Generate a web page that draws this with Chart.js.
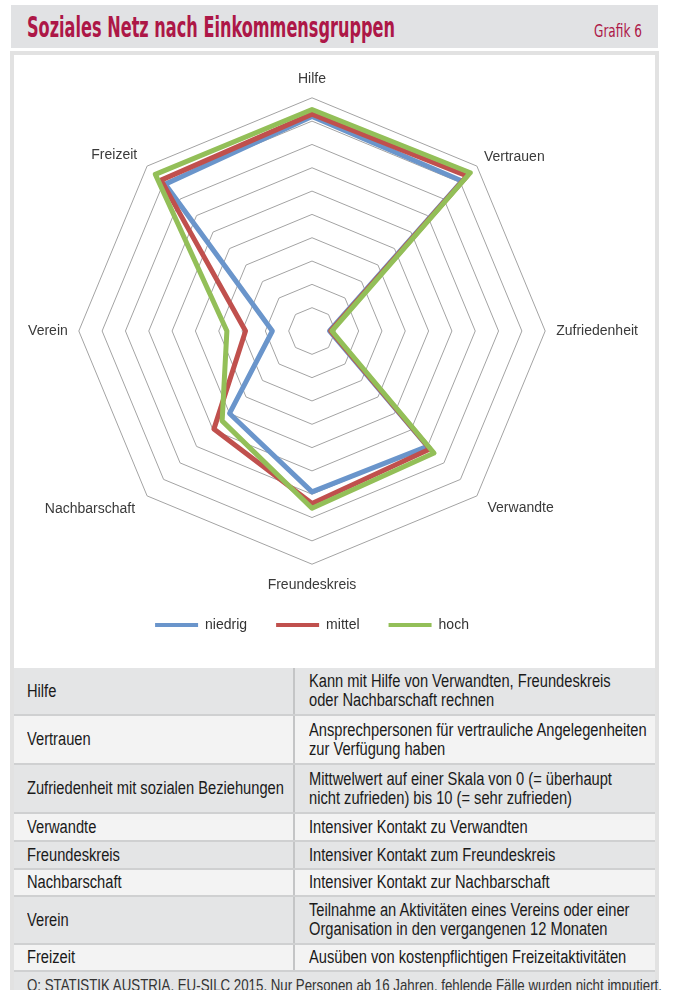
<!DOCTYPE html>
<html lang="de"><head><meta charset="utf-8">
<script src="https://cdn.jsdelivr.net/npm/chart.js@4.4.1/dist/chart.umd.min.js"></script>
<style>
html,body{margin:0;padding:0;background:#fff;overflow:hidden;}
body{width:676px;height:990px;position:relative;}
.nar{font-family:"Liberation Sans Narrow","Arial Narrow","DejaVu Sans Condensed",sans-serif;}
.ars{font-family:"Liberation Sans",Arial,sans-serif;}
#hdr{position:absolute;left:11px;top:5px;width:647px;height:43px;background:#e1e2e4;}
#title{position:absolute;left:16px;top:7px;font-weight:bold;font-size:28px;line-height:32px;color:#ad1747;white-space:nowrap;transform-origin:0 0;}
#grafik{position:absolute;left:583px;top:16px;font-size:17px;line-height:20px;color:#ad1747;white-space:nowrap;transform-origin:0 0;}
#frame{position:absolute;left:10px;top:51px;width:641px;height:960px;border:4px solid #e2e2e2;border-bottom:none;background:#fff;}
#chart{position:absolute;left:-40px;top:55px;z-index:2;}
.row{position:absolute;left:14px;width:641px;box-sizing:border-box;border-bottom:2px solid #cfd0d1;font-size:18px;line-height:19px;color:#1a1a1a;z-index:3;}
.row.g{background:#e4e5e6;}
.row.l{background:#f3f3f3;}
.c1{position:absolute;left:0;top:0;bottom:0;width:279px;box-sizing:border-box;padding-left:13px;display:flex;flex-direction:column;justify-content:center;}
.c2{position:absolute;left:279px;top:0;bottom:0;right:0;box-sizing:border-box;padding-left:14px;border-left:2px solid #c4c5c6;display:flex;flex-direction:column;justify-content:center;}
.sx{display:block;white-space:nowrap;transform:scaleX(0.815);transform-origin:0 50%;}
.src{position:absolute;left:14px;width:641px;height:40px;background:#e4e5e6;font-size:17px;line-height:20px;color:#333;z-index:3;white-space:nowrap;}
.src span{position:absolute;left:13px;top:4px;transform-origin:0 50%;}
</style>
</head>
<body>
<div id="hdr"><div id="title" class="nar">Soziales Netz nach Einkommensgruppen</div><div id="grafik" class="nar">Grafik 6</div></div>
<div id="frame"></div>
<canvas id="chart" width="704" height="605" style="width:704px;height:605px"></canvas>
<div id="tbl"></div>
<script>
// ---- data ----
const categories = ['Hilfe', 'Vertrauen', 'Zufriedenheit', 'Verwandte', 'Freundeskreis', 'Nachbarschaft', 'Verein', 'Freizeit'];
const seriesNames = ['niedrig', 'mittel', 'hoch'];
const niedrig = [92, 91, 7.5, 70, 69, 50, 17, 89];
const mittel  = [93, 94, 8.0, 71.5, 74, 59.5, 28.5, 91.5];
const hoch    = [95, 96, 8.5, 74, 76, 54.5, 36.5, 95];
const scaleMin = 0, scaleMax = 100, scaleStep = 10;

const tableTerms = ['Hilfe', 'Vertrauen', 'Zufriedenheit mit sozialen Beziehungen', 'Verwandte', 'Freundeskreis', 'Nachbarschaft', 'Verein', 'Freizeit'];
const tableDefs = [
  ['Kann mit Hilfe von Verwandten, Freundeskreis', 'oder Nachbarschaft rechnen'],
  ['Ansprechpersonen für vertrauliche Angelegenheiten', 'zur Verfügung haben'],
  ['Mittwelwert auf einer Skala von 0 (= überhaupt', 'nicht zufrieden) bis 10 (= sehr zufrieden)'],
  ['Intensiver Kontakt zu Verwandten'],
  ['Intensiver Kontakt zum Freundeskreis'],
  ['Intensiver Kontakt zur Nachbarschaft'],
  ['Teilnahme an Aktivitäten eines Vereins oder einer', 'Organisation in den vergangenen 12 Monaten'],
  ['Ausüben von kostenpflichtigen Freizeitaktivitäten']
];
const sourceNote = 'Q: STATISTIK AUSTRIA, EU-SILC 2015. Nur Personen ab 16 Jahren, fehlende Fälle wurden nicht imputiert.';

// ---- styles ----
const colors = ['#6a95cb', '#c0504d', '#93bf58'];
const drawOrder = [3, 2, 1];
const labelPadding = [17, 10, 11, 15, 20, 17, 11, 14];
const rowHeights = [48, 49, 49, 28, 28, 27, 48, 27];
const labelFont = '"Liberation Sans", Arial, sans-serif';

function fitWidth(el, target) {
  const w = el.getBoundingClientRect().width;
  el.style.transform = 'scaleX(' + (target / w) + ')';
}
fitWidth(document.getElementById('title'), 368);
fitWidth(document.getElementById('grafik'), 48);

// table
(function(){
  const host = document.getElementById('tbl');
  let top = 668;
  const mk = (cls, lines) => {
    const d = document.createElement('div'); d.className = cls;
    lines.forEach(s => { const sp = document.createElement('span'); sp.className = 'sx'; sp.textContent = s; d.appendChild(sp); });
    return d;
  };
  tableTerms.forEach((term, i) => {
    const r = document.createElement('div');
    r.className = 'row ars ' + (i % 2 === 0 ? 'g' : 'l');
    r.style.top = top + 'px';
    r.style.height = rowHeights[i] + 'px';
    r.appendChild(mk('c1', [term]));
    r.appendChild(mk('c2', tableDefs[i]));
    host.appendChild(r);
    top += rowHeights[i];
  });
  const s = document.createElement('div');
  s.className = 'src ars'; s.style.top = top + 'px';
  const sp = document.createElement('span'); sp.textContent = sourceNote;
  s.appendChild(sp); host.appendChild(s);
  fitWidth(sp, 635);
})();

const seriesData = [niedrig, mittel, hoch];
new Chart(document.getElementById('chart'), {
  type: 'radar',
  data: {
    labels: categories,
    datasets: seriesNames.map((n, i) => ({
      label: n,
      data: seriesData[i],
      borderColor: colors[i],
      backgroundColor: colors[i],
      borderWidth: 5,
      borderJoinStyle: 'round',
      borderCapStyle: 'round',
      fill: false,
      pointRadius: 0,
      pointHoverRadius: 0,
      order: drawOrder[i]
    }))
  },
  options: {
    responsive: false,
    animation: false,
    events: [],
    layout: { padding: { top: 22, bottom: 18, left: 0, right: 0 } },
    elements: { line: { tension: 0 } },
    scales: {
      r: {
        min: scaleMin, max: scaleMax,
        ticks: { display: false, stepSize: scaleStep },
        grid: { color: '#a3a3a3', lineWidth: 1, circular: false },
        angleLines: { display: false },
        pointLabels: {
          color: '#3a3a3a',
          font: { family: labelFont, size: 14, lineHeight: 0.2 },
          padding: (c) => labelPadding[c.index]
        }
      }
    },
    plugins: {
      tooltip: { enabled: false },
      legend: {
        position: 'bottom',
        labels: {
          usePointStyle: true,
          pointStyle: 'line',
          pointStyleWidth: 43,
          padding: 29,
          color: '#333',
          font: { family: labelFont, size: 14 },
          sort: (a, b) => a.datasetIndex - b.datasetIndex,
          generateLabels: (chart) => Chart.defaults.plugins.legend.labels.generateLabels(chart).map(it => Object.assign(it, { lineWidth: 4 }))
        }
      }
    }
  }
});
</script>
</body></html>
